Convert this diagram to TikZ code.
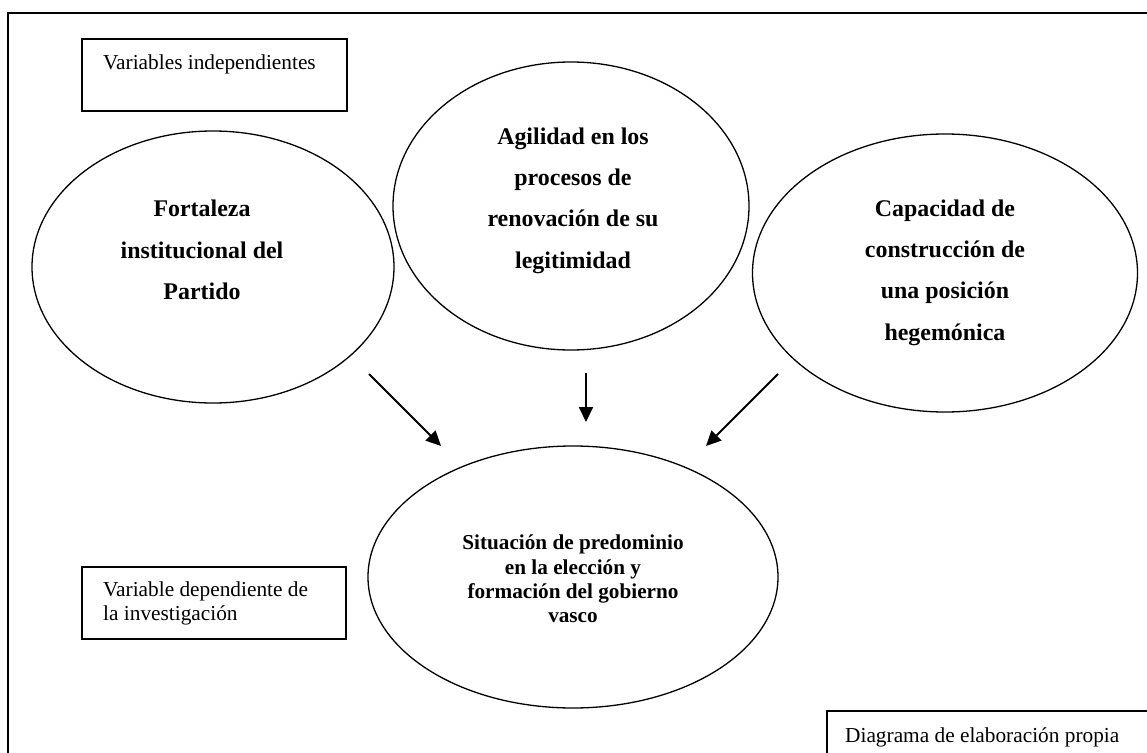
\documentclass[tikz,border=0pt]{standalone}
\usepackage{fontspec}
\setmainfont{Liberation Serif}
\usetikzlibrary{shapes.geometric,arrows.meta}
\begin{document}
\begin{tikzpicture}[x=1bp,y=-1bp,
  ell/.style={draw,ellipse,line width=1.3bp,inner sep=0pt},
  vbox/.style={draw,rectangle,line width=1.6bp,inner sep=0pt,anchor=north west},
  lbl/.style={font=\fontsize{21.4}{23.5}\selectfont,anchor=base west,align=left,inner sep=0pt},
  btxt/.style={font=\fontsize{24}{41.5}\selectfont\bfseries,align=center,inner sep=0pt},
  stxt/.style={font=\fontsize{21.3}{24.3}\selectfont\bfseries,align=center,inner sep=0pt},
  arr/.style={line width=2bp,-{Triangle[length=15bp,width=14bp]}}
]
\useasboundingbox (0,0) rectangle (1147,753);
\clip (0,0) rectangle (1147,753);
\fill[white] (0,0) rectangle (1147,753);
% outer frame
\draw[line width=2bp] (8,13) rectangle (1170,780);

% legend boxes
\node[vbox,minimum width=265bp,minimum height=72bp] (indepbox) at (81,38) {};
\node[lbl] (indeptxt) at (103,70) {Variables independientes};

\node[vbox,minimum width=264bp,minimum height=72bp] (depbox) at (81,566) {};
\node[lbl] (deptxt) at (103,620) {Variable dependiente de\\la investigación};

\node[vbox,minimum width=360bp,minimum height=70bp] (credbox) at (826,710) {};
\node[lbl] (credtxt) at (845,742) {Diagrama de elaboración propia};

% ellipses
\node[ell,minimum width=362bp,minimum height=272bp] (e1) at (213,267) {};
\node[ell,minimum width=356bp,minimum height=288bp] (e2) at (571,206) {};
\node[ell,minimum width=385bp,minimum height=278bp] (e3) at (945,273) {};
\node[ell,minimum width=410bp,minimum height=262bp] (e4) at (573,577) {};

\node[btxt] (t1) at (202,250) {Fortaleza\\institucional del\\Partido};
\node[btxt] (t2) at (573,200.5) {Agilidad en los\\procesos de\\renovación de su\\legitimidad};
\node[btxt] (t3) at (945,272.5) {Capacidad de\\construcción de\\una posición\\hegemónica};
\node[stxt] (t4) at (573,579) {Situación de predominio\\en la elección y\\formación del gobierno\\vasco};

% arrows
\coordinate (a1s) at (369,374);
\coordinate (a1e) at (441,446);
\coordinate (a2s) at (586,373);
\coordinate (a2e) at (586,422);
\coordinate (a3s) at (778,374);
\coordinate (a3e) at (706,446);
\draw[arr] (a1s) -- (a1e);
\draw[arr] (a2s) -- (a2e);
\draw[arr] (a3s) -- (a3e);
\end{tikzpicture}
\end{document}
